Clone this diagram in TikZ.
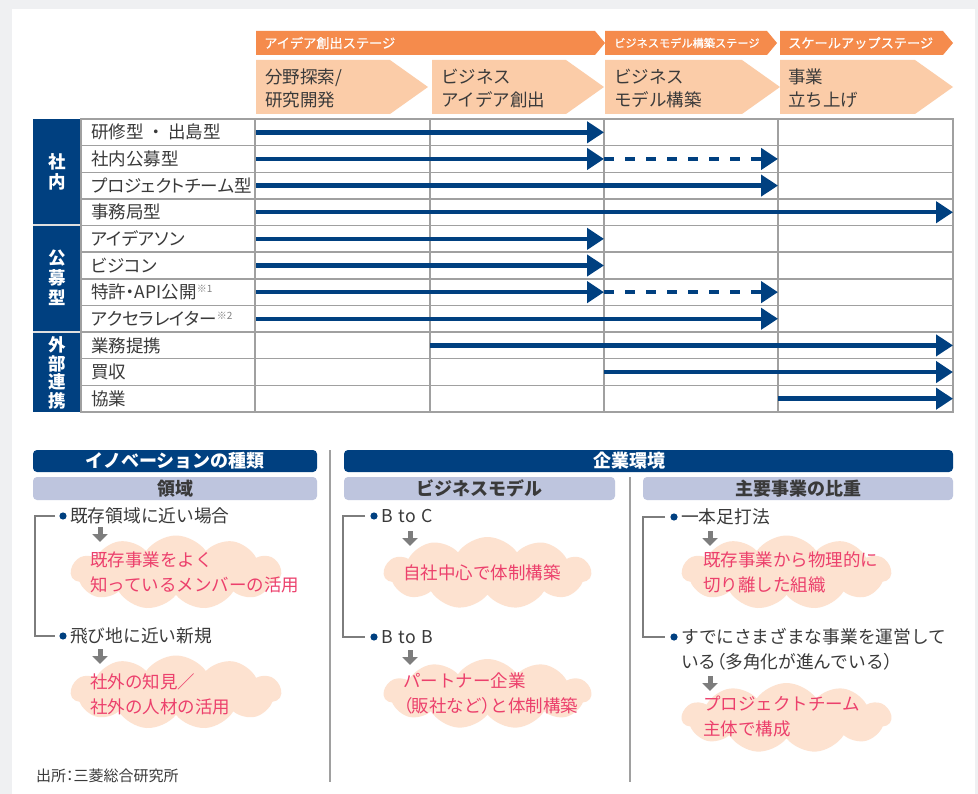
\documentclass[tikz,border=0pt]{standalone}
\usepackage{fontspec}
\setmainfont{Noto Sans CJK JP}
\newfontfamily\pfont{Noto Sans CJK JP}[RawFeature=+palt]
\usetikzlibrary{arrows.meta,shapes.symbols,calc}
\definecolor{navy}{RGB}{0,64,128}
\definecolor{orangebar}{RGB}{245,139,76}
\definecolor{orangelt}{RGB}{251,204,168}
\definecolor{hdrlt}{RGB}{190,197,222}
\definecolor{cloudfill}{RGB}{253,226,208}
\definecolor{pinktxt}{RGB}{236,64,108}
\definecolor{gridgray}{RGB}{160,160,160}
\definecolor{txtgray}{RGB}{58,58,58}
\definecolor{arrgray}{RGB}{125,125,125}
\definecolor{bgout}{RGB}{239,240,242}
\newcommand{\fs}[2]{\fontsize{#1}{#2}\selectfont}
\newcommand{\pl}[1]{{\pfont #1}}
\begin{document}
\begin{tikzpicture}[x=1pt,y=-1pt,
  flow/.style={draw=navy, line width=4.5pt, -{Triangle[length=17pt,width=21pt]}},
  dflow/.style={flow, dash pattern=on 10pt off 11pt},
  gridline/.style={draw=gridgray, line width=1.4pt},
  lbl/.style={anchor=west, inner sep=0pt, text=txtgray, font=\pfont\fs{17.5}{20}},
  grp/.style={align=center, inner sep=0pt, text=white, font=\bfseries\fs{17.5}{20}},
  chev/.style={anchor=west, inner sep=0pt, align=left, text=txtgray, font=\fs{17.5}{23}},
  stagetxt/.style={anchor=west, inner sep=0pt, text=white, font=\addfontfeature{FakeBold=0.7}\fs{13.2}{15}},
  hdrtxt/.style={inner sep=0pt, text=white, font=\bfseries\fs{18}{20}},
  subtxt/.style={inner sep=0pt, text=txtgray, font=\bfseries\fs{18}{20}},
  treetxt/.style={anchor=west, inner sep=0pt, align=left, text=txtgray, font=\fs{17.7}{25}},
  cloudtxt/.style={anchor=west, inner sep=0pt, align=left, text=pinktxt, font=\fs{17.5}{25}},
  cloudsh/.style={cloud, cloud puffs=11, cloud puff arc=110, aspect=2.9, fill=cloudfill, draw=none, inner sep=0pt},
  bracket/.style={draw=arrgray, line width=2.4pt},
  downarr/.style={draw=arrgray, line width=5pt, -{Triangle[length=8pt,width=15pt]}},
]
% background
\fill[bgout] (0,0) rectangle (978,794);
\fill[white] (12,9) rectangle (975,794);

% stage bar
\fill[orangebar] (256,31) -- (595,31) -- (605,43) -- (595,55) -- (256,55) -- cycle;
\fill[orangebar] (605,31) -- (767,31) -- (777,43) -- (767,55) -- (605,55) -- cycle;
\fill[orangebar] (780,31) -- (943,31) -- (953,43) -- (943,55) -- (780,55) -- cycle;
\node[stagetxt] (s1) at (264,43) {アイデア創出ステージ};
\node[stagetxt, font=\addfontfeature{FakeBold=0.7}\fs{11.2}{14}] (s2) at (614,43) {ビジネスモデル構築ステージ};
\node[stagetxt] (s3) at (788,43) {スケールアップステージ};

% chevrons
\fill[orangelt] (256,60) -- (390,60) -- (428,87) -- (390,114) -- (256,114) -- cycle;
\fill[orangelt] (432,60) -- (566,60) -- (604,87) -- (566,114) -- (432,114) -- cycle;
\fill[orangelt] (605,60) -- (742,60) -- (780,87) -- (742,114) -- (605,114) -- cycle;
\fill[orangelt] (780,60) -- (915,60) -- (953,87) -- (915,114) -- (780,114) -- cycle;
\node[chev] (c1) at (265,88.5) {分野探索/\\研究開発};
\node[chev] (c2) at (441,88.5) {ビジネス\\アイデア創出};
\node[chev] (c3) at (614,88.5) {ビジネス\\モデル構築};
\node[chev] (c4) at (788,88.5) {事業\\立ち上げ};

% navy group column
\fill[navy] (33,119) rectangle (81,412);
\draw[white!75!gray, line width=2pt] (33,225.5) -- (81,225.5);
\draw[white!75!gray, line width=2pt] (33,332.1) -- (81,332.1);
\node[grp] (g1) at (57,172) {社\\内};
\node[grp] (g2) at (57,278) {公\\募\\型};
\node[grp, font=\bfseries\fs{17.5}{18.7}] (g3) at (57,373) {外\\部\\連\\携};

% grid
\foreach \r in {1,...,10} {
  \draw[gridline] (81,{119+\r*26.636}) -- (953,{119+\r*26.636});
}
\foreach \xx in {255,430,604,778} {
  \draw[gridline] (\xx,119) -- (\xx,412);
}
\draw[gridline] (81,119) rectangle (953,412);

% row coordinates
\foreach \r in {1,...,11} {
  \pgfmathsetmacro{\yy}{119+(\r-0.5)*26.636}
  \foreach \c/\xx in {0/256,1/430,2/604,3/778,4/953} {
    \coordinate (p\r-\c) at (\xx,\yy);
  }
  \coordinate (q\r) at (91,\yy);
}

% row labels
\node[lbl] (l1) at (q1) {研修型\hspace{8pt}・\hspace{8pt}出島型};
\node[lbl] (l2) at (q2) {社内公募型};
\node[lbl] (l3) at (q3) {プロジェクトチーム型};
\node[lbl] (l4) at (q4) {事務局型};
\node[lbl] (l5) at (q5) {アイデアソン};
\node[lbl] (l6) at (q6) {ビジコン};
\node[lbl] (l7) at (q7) {特許・API公開{\fs{10}{10}\raisebox{6pt}{\textcolor{gray}{※1}}}};
\node[lbl] (l8) at (q8) {アクセラレイター{\fs{10}{10}\raisebox{6pt}{\textcolor{gray}{※2}}}};
\node[lbl] (l9) at (q9) {業務提携};
\node[lbl] (l10) at (q10) {買収};
\node[lbl] (l11) at (q11) {協業};

% arrows
\draw[flow] (p1-0) -- (p1-2);
\draw[flow] (p2-0) -- (p2-2);
\draw[dflow] (p2-2) -- (p2-3);
\draw[flow] (p3-0) -- (p3-3);
\draw[flow] (p4-0) -- (p4-4);
\draw[flow] (p5-0) -- (p5-2);
\draw[flow] (p6-0) -- (p6-2);
\draw[flow] (p7-0) -- (p7-2);
\draw[dflow] (p7-2) -- (p7-3);
\draw[flow] (p8-0) -- (p8-3);
\draw[flow] (p9-1) -- (p9-4);
\draw[flow] (p10-2) -- (p10-4);
\draw[flow] (p11-3) -- (p11-4);

% bottom dividers
\draw[draw=gridgray, line width=1.4pt] (330,450) -- (330,782);
\draw[draw=gridgray, line width=1.4pt] (630,477) -- (630,782);

% headers
\fill[navy, rounded corners=4pt] (33,450) rectangle (317,472);
\node[hdrtxt] (h1) at (175,461) {イノベーションの種類};
\fill[hdrlt, rounded corners=4pt] (33,477) rectangle (317,500);
\node[subtxt] (h1a) at (175,488.5) {領域};
\fill[navy, rounded corners=4pt] (344,450) rectangle (953,472);
\node[hdrtxt] (h2) at (629,461) {企業環境};
\fill[hdrlt, rounded corners=4pt] (344,477) rectangle (615,500);
\node[subtxt] (h2a) at (479.5,488.5) {ビジネスモデル};
\fill[hdrlt, rounded corners=4pt] (643,477) rectangle (953,500);
\node[subtxt] (h2b) at (798,488.5) {主要事業の比重};

% clouds
\node[cloudsh, minimum width=210pt, minimum height=74pt] (k1) at (176,572.5) {};
\node[cloudsh, minimum width=210pt, minimum height=74pt] (k2) at (176,692.5) {};
\node[cloudsh, minimum width=207pt, minimum height=72pt] (k3) at (487.5,573) {};
\node[cloudsh, minimum width=207pt, minimum height=70pt] (k4) at (487.5,694) {};
\node[cloudsh, minimum width=209pt, minimum height=74pt] (k5) at (786.5,572.5) {};
\node[cloudsh, minimum width=209pt, minimum height=70pt] (k6) at (786.5,718) {};

% left tree
\coordinate (b1) at (35,516);
\coordinate (b2) at (35,636);
\node[treetxt] (t1) at (70,516) {既存領域に近い場合};
\node[treetxt] (t2) at (70,636) {飛び地に近い新規};
\fill[navy] (63,516) circle (3.6pt);
\fill[navy] (63,636) circle (3.6pt);
\draw[bracket] ($(t1.west)+(-15,0)$) -- (b1) -- (b2) -- ($(t2.west)+(-15,0)$);
\draw[downarr] (100,527) -- (100,542);
\draw[downarr] (100,649) -- (100,664);
\node[cloudtxt] (ct1) at (90,572.5) {既存事業をよく\\知っているメンバーの活用};
\node[cloudtxt] (ct2) at (90,694.5) {社外の知見／\\社外の人材の活用};

% middle tree
\coordinate (b3) at (343,516);
\coordinate (b4) at (343,637);
\node[treetxt] (t3) at (381,516) {B\hspace{6pt}to\hspace{6pt}C};
\node[treetxt] (t4) at (381,637) {B\hspace{6pt}to\hspace{6pt}B};
\fill[navy] (374,516) circle (3.6pt);
\fill[navy] (374,637) circle (3.6pt);
\draw[bracket] ($(t3.west)+(-16,0)$) -- (b3) -- (b4) -- ($(t4.west)+(-16,0)$);
\draw[downarr] (410,531) -- (410,546);
\draw[downarr] (410,650) -- (410,665);
\node[cloudtxt] (ct3) at (403,573) {自社中心で体制構築};
\node[cloudtxt] (ct4) at (403,693.5) {パートナー企業\\\pl{（}販社など\pl{）}と体制構築};

% right tree
\coordinate (b5) at (643,517);
\coordinate (b6) at (643,637);
\node[treetxt] (t5) at (681,517) {一本足打法};
\node[treetxt] (t6) at (681,649.5) {すでにさまざまな事業を運営して\\いる\pl{（}多角化が進んでいる\pl{）}};
\fill[navy] (674,517) circle (3.6pt);
\fill[navy] (674,637) circle (3.6pt);
\draw[bracket] ($(t5.west)+(-16,0)$) -- (b5) -- (b6) -- (665,637);
\draw[downarr] (710,531) -- (710,546);
\draw[downarr] (710,676) -- (710,691);
\node[cloudtxt] (ct5) at (703,572.5) {既存事業から物理的に\\切り離した組織};
\node[cloudtxt] (ct6) at (703,716.5) {プロジェクトチーム\\主体で構成};

% source
\node[anchor=west, inner sep=0pt, text=txtgray, font=\pfont\fs{15}{18}] (src) at (36,776) {出所：三菱総合研究所};
\end{tikzpicture}
\end{document}
